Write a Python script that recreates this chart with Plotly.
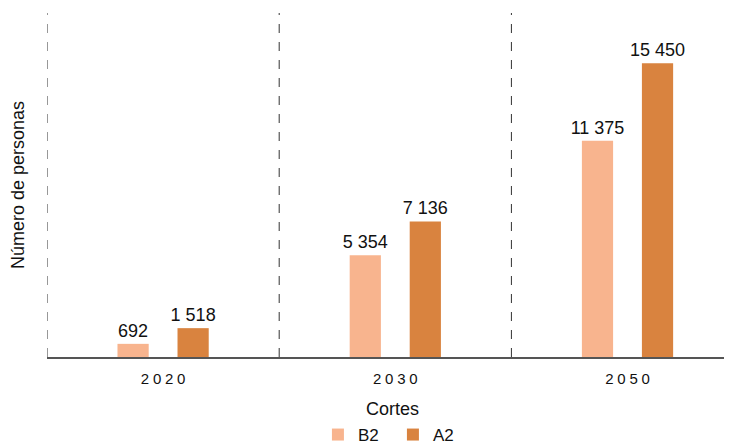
import plotly.graph_objects as go

cortes = ["2020", "2030", "2050"]
etiquetas_cortes = ["2\u20050\u20052\u20050", "2\u20050\u20053\u20050", "2\u20050\u20055\u20050"]
b2 = [692, 5354, 11375]
a2 = [1518, 7136, 15450]

COLORES = {"B2": "#F8B48E", "A2": "#D9833F"}
FUENTE = "Liberation Sans, Arial, sans-serif"


def fmt(v):
    return f"{v:,}".replace(",", " ")


fig = go.Figure()
for nombre, valores in [("B2", b2), ("A2", a2)]:
    fig.add_trace(go.Bar(
        x=cortes, y=valores, name=nombre,
        marker=dict(color=COLORES[nombre], line=dict(width=0)),
        text=[fmt(v) for v in valores],
        textposition="outside", cliponaxis=False,
        textfont=dict(size=18, color="#111111", family=FUENTE),
    ))

# lineas divisorias discontinuas entre cortes
for xv in [-0.5, 0.5, 1.5]:
    fig.add_shape(type="line", xref="x", yref="paper", x0=xv, x1=xv, y0=0, y1=1,
                  line=dict(color="#333333", width=1, dash="dash"))

# titulo del eje x como anotacion (standoff no se aplica sin automargin)
fig.add_annotation(text="Cortes", xref="paper", yref="paper", x=0.505, y=-0.151,
                   xanchor="center", yanchor="middle", showarrow=False,
                   font=dict(size=18, family=FUENTE, color="#111111"))

# la pagina tiene 8px de margen en el body, se compensa aqui;
# la figura es algo mas alta que la ventana para bajar la leyenda
fig.update_layout(
    width=724, height=445,
    margin=dict(l=39, r=0, t=5, b=96),
    plot_bgcolor="white", paper_bgcolor="white",
    font=dict(family=FUENTE, color="#111111"),
    barmode="group", bargap=0.483, bargroupgap=0.48,
    uniformtext=dict(minsize=18, mode="show"),
    showlegend=True,
    legend=dict(orientation="h", x=0.505, xanchor="center",
                yref="container", y=0, yanchor="bottom",
                font=dict(size=17), traceorder="normal",
                itemwidth=30, entrywidth=30, tracegroupgap=0),
    xaxis=dict(
        range=[-0.5, 2.45], tickvals=cortes, ticktext=etiquetas_cortes,
        showline=True, linecolor="#555555", linewidth=1.5, ticks="",
        tickfont=dict(size=15), showgrid=False, automargin=False,
        ticklabelstandoff=7,
    ),
    yaxis=dict(
        range=[0, 18100], showticklabels=False, showgrid=False, zeroline=False,
        ticks="", automargin=False,
        title=dict(text="Número de personas", font=dict(size=18), standoff=18),
    ),
)

fig.write_html("out.html", post_script="document.body.style.overflow='hidden';")
